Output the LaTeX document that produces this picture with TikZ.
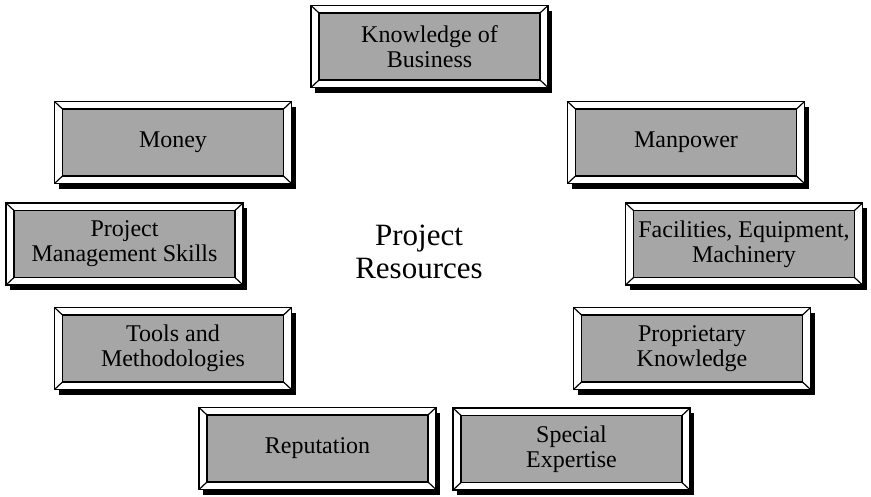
\documentclass[tikz,border=0pt]{standalone}
\usepackage{fontspec}
\setmainfont{Liberation Serif}
\usetikzlibrary{shadows}
\definecolor{boxgray}{RGB}{166,166,166}
\tikzset{
  outerbox/.style={draw=black, line width=1.8pt, fill=white, minimum width=237pt, minimum height=82pt,
    inner sep=0pt, outer sep=0pt,
    drop shadow={shadow xshift=4pt, shadow yshift=-5pt, fill=black, opacity=1}},
  innerbox/.style={draw=black, line width=1.6pt, fill=boxgray, minimum width=221pt, minimum height=67pt,
    inner sep=0pt, outer sep=0pt, align=center, font=\fontsize{24}{25}\selectfont},
  bevel/.style={line width=1.2pt},
  title/.style={align=center, font=\fontsize{31}{33}\selectfont}
}
\newcommand\bevbox[3]{%
  \node[outerbox] (#1) at (#2) {};
  \node[innerbox] (#1in) at (#1.center) {#3};
  \draw[bevel] (#1.north west) -- (#1in.north west)
               (#1.north east) -- (#1in.north east)
               (#1.south west) -- (#1in.south west)
               (#1.south east) -- (#1in.south east);
}
\begin{document}
\begin{tikzpicture}[x=1pt,y=-1pt]
  \useasboundingbox (0,0) rectangle (871,496);
  \bevbox{knowledge}{429.5,46.5}{Knowledge of\\Business}
  \bevbox{money}{173,142.5}{Money}
  \bevbox{manpower}{686,142.5}{Manpower}
  \bevbox{pms}{124.5,244}{Project\\Management Skills}
  \bevbox{facilities}{744,244}{Facilities, Equipment,\\Machinery}
  \bevbox{tools}{173,348.5}{Tools and\\Methodologies}
  \bevbox{proprietary}{692,348.5}{Proprietary\\Knowledge}
  \bevbox{reputation}{317.5,448.5}{Reputation}
  \bevbox{special}{571.5,449}{Special\\Expertise}
  \node[title] (center) at (419,251.5) {Project\\Resources};
\end{tikzpicture}
\end{document}
